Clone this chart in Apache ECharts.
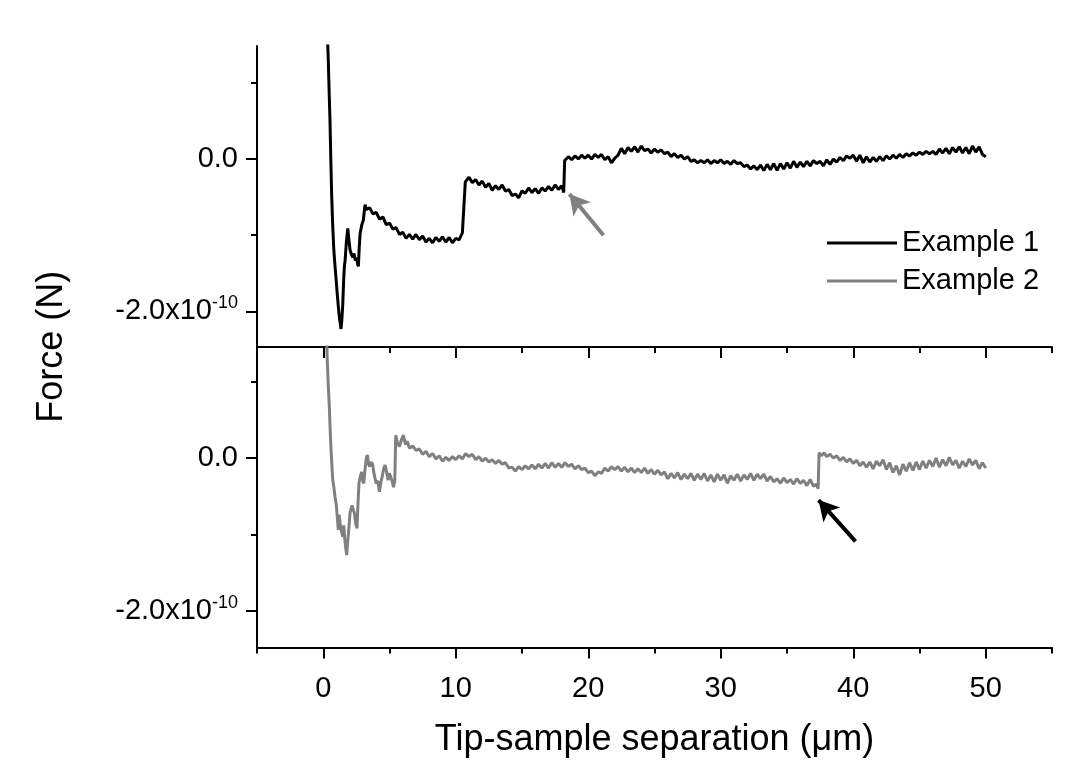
<!DOCTYPE html>
<html lang="en">
<head>
<meta charset="UTF-8">
<title>Force vs separation</title>
<script src="https://cdn.jsdelivr.net/npm/echarts@6/dist/echarts.min.js"></script>
<style>
  html, body { margin: 0; padding: 0; background: #fff; }
  #chart { width: 1088px; height: 776px; }
</style>
</head>
<body>
<div id="chart"></div>
<script>
// force values are in units of 1e-10 N, separation in um
const sep1 = [0.30,0.38,0.45,0.51,0.57,0.64,0.72,0.80,0.89,0.98,1.06,1.14,1.22,1.30,1.34,1.40,1.47,1.55,1.60,1.65,1.75,1.85,1.93,2.02,2.12,2.22,2.32,2.42,2.52,2.60,2.65,2.72,2.78,2.90,3.03,3.10,3.16,
  3.25,3.50,3.75,4.00,4.25,4.50,4.75,5.00,5.25,5.50,5.75,6.00,6.25,6.50,6.75,7.00,7.25,7.50,7.75,8.00,8.25,8.50,8.75,9.00,9.25,9.50,9.75,10.00,10.25,10.50,10.65,
  10.72,11.00,11.25,11.50,11.75,12.00,12.25,12.50,12.75,13.00,13.25,13.50,13.75,14.00,14.25,14.50,14.75,15.00,15.25,15.50,15.75,16.00,16.25,16.50,16.75,17.00,17.25,17.50,17.75,18.00,18.15,
  18.22,18.50,18.75,19.00,19.25,19.50,19.75,20.00,20.25,20.50,20.75,21.00,21.25,21.50,21.75,22.00,22.25,22.50,22.75,23.00,23.25,23.50,23.75,24.00,24.25,24.50,24.75,25.00,25.25,25.50,25.75,
  26.00,26.25,26.50,26.75,27.00,27.25,27.50,27.75,28.00,28.25,28.50,28.75,29.00,29.25,29.50,29.75,30.00,30.25,30.50,30.75,31.00,31.25,31.50,31.75,32.00,32.25,32.50,32.75,33.00,33.25,33.50,33.75,
  34.00,34.25,34.50,34.75,35.00,35.25,35.50,35.75,36.00,36.25,36.50,36.75,37.00,37.25,37.50,37.75,38.00,38.25,38.50,38.75,39.00,39.25,39.50,39.75,40.00,40.25,40.50,40.75,41.00,41.25,41.50,41.75,
  42.00,42.25,42.50,42.75,43.00,43.25,43.50,43.75,44.00,44.25,44.50,44.75,45.00,45.25,45.50,45.75,46.00,46.25,46.50,46.75,47.00,47.25,47.50,47.75,48.00,48.25,48.50,48.75,49.00,49.25,49.50,49.75,50.00];
const force1 = [1.7,1.3,0.85,0.5,0.0,-0.5,-0.9,-1.2,-1.41,-1.6,-1.78,-1.94,-2.08,-2.18,-2.23,-2.12,-1.92,-1.55,-1.40,-1.33,-1.08,-0.91,-1.05,-1.19,-1.25,-1.29,-1.24,-1.33,-1.30,-1.38,-1.41,-1.15,-0.98,-0.87,-0.80,-0.68,-0.60,
  -0.66,-0.64,-0.72,-0.70,-0.79,-0.76,-0.86,-0.84,-0.92,-0.90,-0.99,-0.96,-1.04,-0.99,-1.05,-0.99,-1.06,-1.01,-1.09,-1.04,-1.10,-1.03,-1.08,-1.02,-1.09,-1.03,-1.10,-1.04,-1.06,-0.97,-0.99,
  -0.30,-0.24,-0.31,-0.27,-0.34,-0.29,-0.37,-0.32,-0.41,-0.35,-0.40,-0.34,-0.42,-0.40,-0.48,-0.46,-0.51,-0.42,-0.45,-0.38,-0.44,-0.39,-0.45,-0.38,-0.42,-0.36,-0.41,-0.34,-0.40,-0.35,-0.44,
  -0.02,0.03,-0.01,0.04,0.00,0.05,0.01,0.05,0.00,0.06,0.02,0.06,-0.01,0.03,-0.05,0.01,0.05,0.14,0.07,0.15,0.10,0.16,0.09,0.17,0.11,0.13,0.08,0.13,0.09,0.12,0.07,
  0.09,0.03,0.07,0.02,0.05,0.00,0.03,-0.03,-0.01,-0.05,-0.02,-0.05,-0.01,-0.06,-0.02,-0.05,-0.01,-0.06,-0.03,-0.07,-0.02,-0.06,-0.05,-0.10,-0.08,-0.13,-0.09,-0.14,-0.08,-0.15,-0.07,-0.14,
  -0.06,-0.15,-0.06,-0.13,-0.05,-0.12,-0.03,-0.11,-0.04,-0.10,-0.03,-0.09,-0.02,-0.06,-0.03,-0.09,-0.01,-0.07,0.00,-0.04,0.02,-0.02,0.04,0.01,0.05,-0.03,0.05,-0.05,0.03,-0.04,0.02,-0.03,
  0.03,-0.02,0.04,0.00,0.05,0.01,0.06,0.02,0.07,0.04,0.08,0.05,0.09,0.06,0.10,0.07,0.10,0.06,0.13,0.08,0.14,0.07,0.15,0.09,0.16,0.08,0.15,0.07,0.17,0.09,0.16,0.06,0.03];

const sep2 = [0.22,0.30,0.38,0.46,0.52,0.59,0.66,0.72,0.80,0.88,0.97,1.05,1.14,1.20,1.28,1.36,1.47,1.55,1.62,1.70,1.77,1.84,1.90,1.96,2.02,2.10,2.18,2.27,2.35,2.45,2.55,2.62,2.70,2.80,2.90,2.98,
  3.06,3.15,3.25,3.33,3.42,3.50,3.62,3.72,3.85,3.99,4.12,4.24,4.35,4.45,4.56,4.67,4.80,4.90,5.00,5.10,5.20,5.30,5.40,5.47,5.60,5.75,5.90,6.05,6.20,6.35,6.50,6.75,7.00,7.25,7.50,7.75,
  8.00,8.25,8.50,8.75,9.00,9.25,9.50,9.75,10.00,10.25,10.50,10.75,11.00,11.25,11.50,11.75,12.00,12.25,12.50,12.75,13.00,13.25,13.50,13.75,14.00,14.25,14.50,14.75,15.00,15.25,15.50,15.75,
  16.00,16.25,16.50,16.75,17.00,17.25,17.50,17.75,18.00,18.25,18.50,18.75,19.00,19.25,19.50,19.75,20.00,20.25,20.50,20.75,21.00,21.25,21.50,21.75,22.00,22.25,22.50,22.75,23.00,23.25,23.50,23.75,
  24.00,24.25,24.50,24.75,25.00,25.25,25.50,25.75,26.00,26.25,26.50,26.75,27.00,27.25,27.50,27.75,28.00,28.25,28.50,28.75,29.00,29.25,29.50,29.75,30.00,30.25,30.50,30.75,31.00,31.25,31.50,31.75,
  32.00,32.25,32.50,32.75,33.00,33.25,33.50,33.75,34.00,34.25,34.50,34.75,35.00,35.25,35.50,35.75,36.00,36.25,36.50,36.75,37.00,37.20,37.35,
  37.42,37.60,37.80,38.00,38.25,38.50,38.75,39.00,39.25,39.50,39.75,40.00,40.25,40.50,40.75,41.00,41.25,41.50,41.75,42.00,42.25,42.50,42.75,43.00,43.25,43.50,43.75,
  44.00,44.25,44.50,44.75,45.00,45.25,45.50,45.75,46.00,46.25,46.50,46.75,47.00,47.25,47.50,47.75,48.00,48.25,48.50,48.75,49.00,49.25,49.50,49.75,50.00];
const force2 = [1.8,1.30,0.95,0.67,0.38,0.10,-0.12,-0.29,-0.38,-0.50,-0.59,-0.75,-0.94,-0.74,-0.86,-0.95,-1.03,-0.88,-1.05,-1.18,-1.27,-1.10,-0.99,-0.85,-0.72,-0.66,-0.62,-0.68,-0.72,-0.86,-0.92,-0.60,-0.32,-0.24,-0.18,-0.30,
  -0.33,-0.15,0.00,0.04,-0.08,-0.11,-0.05,-0.08,-0.22,-0.33,-0.30,-0.44,-0.32,-0.24,-0.14,-0.09,-0.20,-0.29,-0.20,-0.18,-0.30,-0.38,-0.30,0.30,0.20,0.15,0.24,0.30,0.18,0.22,0.13,0.16,0.10,0.12,0.05,0.09,
  0.02,0.06,-0.01,0.03,-0.04,0.01,-0.03,0.02,-0.02,0.03,-0.01,0.06,0.02,0.05,-0.02,0.02,-0.04,0.00,-0.05,-0.02,-0.07,-0.03,-0.08,-0.06,-0.13,-0.12,-0.17,-0.11,-0.15,-0.10,-0.14,-0.09,
  -0.14,-0.08,-0.13,-0.07,-0.13,-0.06,-0.12,-0.07,-0.12,-0.06,-0.11,-0.08,-0.14,-0.10,-0.15,-0.13,-0.19,-0.17,-0.23,-0.18,-0.20,-0.13,-0.17,-0.11,-0.15,-0.11,-0.17,-0.12,-0.18,-0.13,-0.19,-0.14,
  -0.19,-0.13,-0.20,-0.15,-0.21,-0.16,-0.22,-0.18,-0.27,-0.20,-0.26,-0.19,-0.28,-0.21,-0.27,-0.20,-0.29,-0.21,-0.28,-0.20,-0.30,-0.22,-0.31,-0.21,-0.29,-0.22,-0.33,-0.23,-0.29,-0.21,-0.30,-0.22,
  -0.28,-0.20,-0.29,-0.21,-0.27,-0.21,-0.30,-0.24,-0.31,-0.27,-0.33,-0.26,-0.32,-0.28,-0.34,-0.27,-0.33,-0.29,-0.36,-0.28,-0.37,-0.34,-0.40,
  0.07,0.03,0.07,0.02,0.05,0.00,0.03,-0.03,0.01,-0.05,-0.01,-0.07,-0.03,-0.10,-0.05,-0.12,-0.05,-0.14,-0.04,-0.10,-0.02,-0.15,-0.06,-0.19,-0.10,-0.22,-0.08,
  -0.17,-0.06,-0.16,-0.05,-0.15,-0.04,-0.13,-0.03,-0.11,0.00,-0.12,-0.02,-0.10,0.01,-0.09,-0.03,-0.13,-0.04,-0.11,-0.01,-0.09,-0.03,-0.14,-0.06,-0.13];

// annotation arrows: [tail, tip] in data coordinates
const arrowTop = [[21.15, -1.00], [18.58, -0.46]];
const arrowBottom = [[40.17, -1.09], [37.38, -0.55]];

const xMajorTicks = [0, 10, 20, 30, 40, 50];
const xMinorTicks = [-5, 5, 15, 25, 35, 45, 55];
const yMajorTicks = [0, -2];
const yMinorTicks = [1, -1];

const FONT = 'Liberation Sans, Arial, sans-serif';
const grey = '#808080';

function pairs(xs, ys) {
  return xs.map((x, i) => [x, ys[i]]);
}

function yLabel(v) {
  if (Math.abs(v) < 1e-9) return '{m|0.0}';
  return '{m|' + v.toFixed(1) + 'x10}{s|-10}';
}

const chart = echarts.init(document.getElementById('chart'), null, { renderer: 'canvas' });

const noSplit = { show: false };
const axLine = { show: true, onZero: false, lineStyle: { color: '#000', width: 2 } };

function majorX(grid, withLabels) {
  return {
    type: 'value', gridIndex: grid, position: 'bottom', min: -5, max: 55,
    axisLine: axLine, splitLine: noSplit,
    axisTick: { show: true, customValues: xMajorTicks, length: 11, lineStyle: { color: '#000', width: 2 } },
    axisLabel: withLabels
      ? { show: true, customValues: xMajorTicks, fontSize: 29, fontFamily: FONT, color: '#000', margin: 27 }
      : { show: false }
  };
}
function minorX(grid) {
  return {
    type: 'value', gridIndex: grid, position: 'bottom', offset: 0, min: -5, max: 55,
    axisLine: { show: false, onZero: false }, splitLine: noSplit, axisLabel: { show: false },
    axisTick: { show: true, customValues: xMinorTicks, length: 6, lineStyle: { color: '#000', width: 2 } }
  };
}
function majorY(grid, lo, hi) {
  return {
    type: 'value', gridIndex: grid, position: 'left', min: lo, max: hi,
    axisLine: axLine, splitLine: noSplit,
    axisTick: { show: true, customValues: yMajorTicks, length: 11, lineStyle: { color: '#000', width: 2 } },
    axisLabel: {
      show: true, customValues: yMajorTicks, margin: 19, formatter: yLabel,
      rich: {
        m: { fontSize: 29, fontFamily: FONT, color: '#000' },
        s: { fontSize: 18, fontFamily: FONT, color: '#000', padding: [0, 0, 16, 0] }
      }
    }
  };
}
function minorY(grid, lo, hi) {
  return {
    type: 'value', gridIndex: grid, position: 'left', offset: 0, min: lo, max: hi,
    axisLine: { show: false, onZero: false }, splitLine: noSplit, axisLabel: { show: false },
    axisTick: { show: true, customValues: yMinorTicks, length: 6, lineStyle: { color: '#000', width: 2 } }
  };
}

const xBottom = majorX(1, true);
xBottom.name = 'Tip-sample separation (μm)';
xBottom.nameLocation = 'middle';
xBottom.nameGap = 75;
xBottom.nameTextStyle = { fontSize: 36, fontFamily: FONT, color: '#000' };

function arrowLine(pts, color) {
  return {
    silent: true, animation: false,
    symbol: ['none', 'arrow'], symbolSize: [17, 20],
    label: { show: false },
    lineStyle: { color: color, width: 4, type: 'solid' },
    emphasis: { disabled: true },
    data: [[{ coord: pts[0] }, { coord: pts[1] }]]
  };
}

const option = {
  animation: false,
  backgroundColor: '#fff',
  grid: [
    { left: 257, right: 36, top: 46, height: 301 },
    { left: 257, right: 36, top: 347, height: 300.5 },
    { left: 257, right: 36, top: 46, height: 601.5 }
  ],
  xAxis: [
    majorX(0, false), minorX(0),
    xBottom, minorX(1),
    { type: 'value', gridIndex: 2, show: false, min: 0, max: 1 }
  ],
  yAxis: [
    majorY(0, -2.467, 1.483), minorY(0, -2.467, 1.483),
    majorY(1, -2.48, 1.455), minorY(1, -2.48, 1.455),
    {
      type: 'value', gridIndex: 2, min: 0, max: 1, position: 'left',
      axisLine: { show: false, onZero: false }, axisTick: { show: false }, axisLabel: { show: false }, splitLine: noSplit,
      name: 'Force (N)', nameLocation: 'middle', nameGap: 187,
      nameTextStyle: { fontSize: 36, fontFamily: FONT, color: '#000' }
    }
  ],
  legend: {
    orient: 'vertical', left: 822, top: 223,
    itemWidth: 70, itemHeight: 3, itemGap: 8, icon: 'rect',
    textStyle: { fontSize: 29, fontFamily: FONT, color: '#000', lineHeight: 30 },
    data: ['Example 1', 'Example 2']
  },
  series: [
    {
      name: 'Example 1', type: 'line', xAxisIndex: 0, yAxisIndex: 0,
      data: pairs(sep1, force1), showSymbol: false, symbol: 'none', clip: true,
      lineStyle: { color: '#000', width: 3 }, itemStyle: { color: '#000' },
      markLine: arrowLine(arrowTop, grey)
    },
    {
      name: 'Example 2', type: 'line', xAxisIndex: 2, yAxisIndex: 2,
      data: pairs(sep2, force2), showSymbol: false, symbol: 'none', clip: true,
      lineStyle: { color: grey, width: 3 }, itemStyle: { color: grey },
      markLine: arrowLine(arrowBottom, '#000')
    }
  ]
};

chart.setOption(option);
</script>
</body>
</html>
